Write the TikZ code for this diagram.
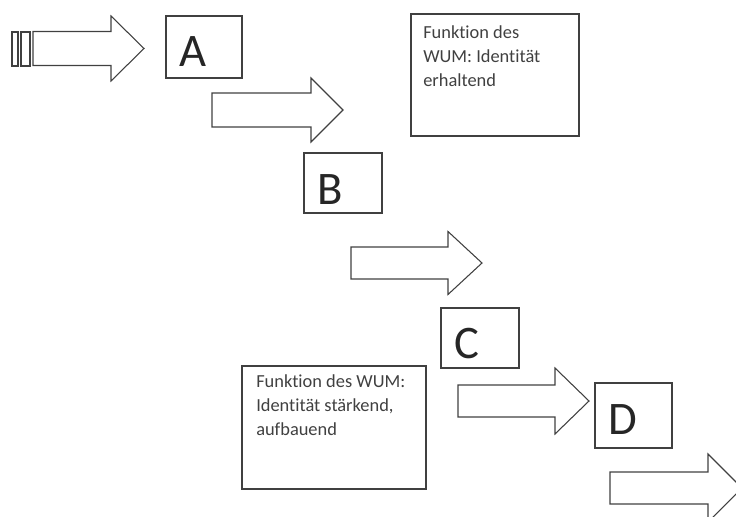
\documentclass[tikz,border=0pt]{standalone}
\usepackage{fontspec}
\setmainfont{Carlito}[Ligatures={NoCommon,NoContextual},RawFeature={-liga;-clig;-calt}]

% block arrow: tail x, neck x, tip x, middle y, half body, half head
\newcommand{\blockarrow}[6]{%
  \draw[outline] (#1,#4-#5) -- (#2,#4-#5) -- (#2,#4-#6) -- (#3,#4)
    -- (#2,#4+#6) -- (#2,#4+#5) -- (#1,#4+#5) -- cycle;}

\begin{document}
\begin{tikzpicture}[x=0.75pt,y=-0.75pt]
\tikzset{
  outline/.style={draw=black!75,line width=0.8pt,line join=miter},
  box/.style={outline,inner sep=0pt},
  letter/.style={inner sep=0pt,font=\fontsize{35}{40}\selectfont,text=black!85},
  note/.style={inner sep=0pt,anchor=north west,align=left,
    font=\fontsize{13.8}{18}\selectfont,text=black!75}
}
\useasboundingbox (0,0) rectangle (736,517);
\clip (0,0) rectangle (736,517);
% arrows
\draw[outline] (12,32) rectangle (18,66);
\draw[outline] (21,32) rectangle (30,66);
\blockarrow{33}{111}{144}{48.5}{17}{32.5}
\blockarrow{212}{311}{343}{110}{17}{32}
\blockarrow{351}{448}{482}{263}{16}{31.5}
\blockarrow{458}{555}{589}{401}{16}{33}
\blockarrow{610}{708}{742}{488}{16}{34}
% boxes
\node[box,minimum width=76*0.75pt,minimum height=62*0.75pt] (boxa) at (204,47) {};
\node[letter] (a) at (192.5,52) {A};
\node[box,minimum width=78*0.75pt,minimum height=60*0.75pt] (boxb) at (343,183) {};
\node[letter] (b) at (330.5,190) {B};
\node[box,minimum width=78*0.75pt,minimum height=60*0.75pt] (boxc) at (480,338) {};
\node[letter] (c) at (466.5,344) {C};
\node[box,minimum width=77*0.75pt,minimum height=65*0.75pt] (boxd) at (633.5,415.5) {};
\node[letter] (d) at (622.5,420) {D};
% notes
\node[box,minimum width=168*0.75pt,minimum height=122*0.75pt] (boxe) at (495,75) {};
\node[note] (e) at (423,25) {Funktion des\\WUM: Identität\\erhaltend};
\node[box,minimum width=184*0.75pt,minimum height=123*0.75pt] (boxf) at (334,427.5) {};
\node[note] (f) at (256,374) {Funktion des WUM:\\Identität stärkend,\\aufbauend};
\end{tikzpicture}
\end{document}
